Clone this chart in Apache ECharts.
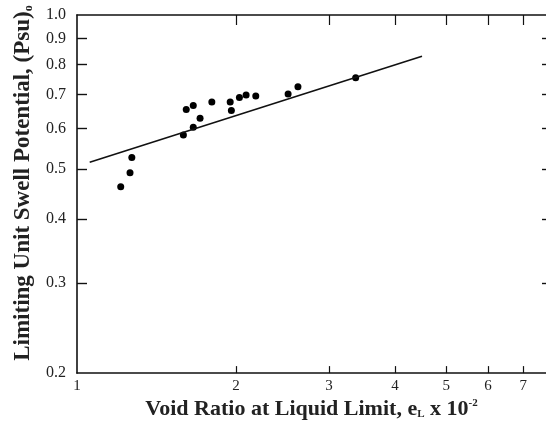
<!DOCTYPE html>
<html>
<head>
<meta charset="utf-8">
<script src="https://cdn.jsdelivr.net/npm/echarts@6/dist/echarts.min.js"></script>
<style>
  html, body { margin: 0; padding: 0; background: #fff; overflow: hidden; }
</style>
</head>
<body>
<!-- plot box runs a bit past the right edge of the page, like the scanned figure -->
<div id="chart" style="width: 554px; height: 425px;"></div>
<script>
// measured points (void ratio at LL x 10^-2, limiting unit swell potential)
const voidRatio = [1.21, 1.26, 1.27, 1.59, 1.61, 1.66, 1.66, 1.71, 1.80, 1.95, 1.96, 2.03, 2.09, 2.18, 2.51, 2.62, 3.37];
const swellPotential = [0.462, 0.492, 0.527, 0.583, 0.654, 0.666, 0.604, 0.629, 0.676, 0.676, 0.651, 0.690, 0.698, 0.695, 0.701, 0.724, 0.754];

// fitted line end points
const fitX = [1.057, 4.50];
const fitY = [0.516, 0.831];

const xTicks = [1, 2, 3, 4, 5, 6, 7];
const yTicks = [0.2, 0.3, 0.4, 0.5, 0.6, 0.7, 0.8, 0.9, 1.0];
const xMin = 1, xMax = 8;
const yMin = 0.2, yMax = 1.0;

const lg = v => Math.log10(v);
const font = 'Liberation Serif';

const chart = echarts.init(document.getElementById('chart'));

const xLabelFmt = v => String(Math.round(Math.pow(10, v)));
const yLabelFmt = v => Math.pow(10, v).toFixed(1);

const axisLine = { show: true, onZero: false, lineStyle: { color: '#111', width: 1.6 } };

let option = {
  animation: false,
  backgroundColor: '#fff',
  grid: { left: 77, right: 0, top: 15, bottom: 47 },
  xAxis: [
    {
      type: 'value',
      position: 'bottom',
      min: lg(xMin),
      max: lg(xMax),
      axisLine: axisLine,
      splitLine: { show: false },
      axisTick: { inside: true, length: 7, customValues: xTicks.slice(1).map(lg), lineStyle: { color: '#111', width: 1.2 } },
      axisLabel: {
        customValues: xTicks.map(lg), formatter: xLabelFmt, margin: 5,
        color: '#222', fontFamily: font, fontSize: 15
      },
      name: 'Void Ratio at Liquid Limit, e{sub|L} x 10{sup|-2}',
      nameLocation: 'middle',
      nameGap: 17,
      nameTextStyle: {
        fontFamily: font, fontSize: 22, fontWeight: 'bold', color: '#222',
        padding: [0, 8, 0, 0],
        rich: {
          sub: { fontFamily: font, fontSize: 11, color: '#222', verticalAlign: 'bottom', padding: [9, 0, 0, 0] },
          sup: { fontFamily: font, fontSize: 11, fontWeight: 'bold', color: '#222', verticalAlign: 'top', padding: [0, 0, 9, 0] }
        }
      }
    },
    {
      type: 'value',
      position: 'top',
      min: lg(xMin),
      max: lg(xMax),
      axisLine: axisLine,
      splitLine: { show: false },
      axisTick: { inside: true, length: 10, customValues: xTicks.slice(1).map(lg), lineStyle: { color: '#111', width: 1.2 } },
      axisLabel: { show: false, customValues: xTicks.slice(1).map(lg) }
    }
  ],
  yAxis: [
    {
      type: 'value',
      position: 'left',
      min: lg(yMin),
      max: lg(yMax),
      axisLine: axisLine,
      splitLine: { show: false },
      axisTick: { inside: true, length: 10, customValues: yTicks.slice(1, -1).map(lg), lineStyle: { color: '#111', width: 1.4 } },
      axisLabel: {
        customValues: yTicks.map(lg), formatter: yLabelFmt, margin: 11,
        color: '#222', fontFamily: font, fontSize: 16
      },
      name: 'Limiting Unit Swell Potential, (Psu){sub|o}',
      nameLocation: 'middle',
      nameGap: 42,
      nameTextStyle: {
        fontFamily: font, fontSize: 23, fontWeight: 'bold', color: '#222',
        padding: [0, 0, 0, 22],
        rich: {
          sub: { fontFamily: font, fontSize: 12, fontWeight: 'bold', color: '#222', verticalAlign: 'bottom', padding: [9, 0, 0, 0] }
        }
      }
    },
    {
      type: 'value',
      position: 'right',
      min: lg(yMin),
      max: lg(yMax),
      axisLine: axisLine,
      splitLine: { show: false },
      axisTick: { inside: true, length: 12, customValues: yTicks.slice(1, -1).map(lg), lineStyle: { color: '#111', width: 1.4 } },
      axisLabel: { show: false, customValues: yTicks.map(lg) }
    }
  ],
  series: [
    {
      type: 'line',
      data: fitX.map((x, i) => [lg(x), lg(fitY[i])]),
      symbol: 'none',
      lineStyle: { color: '#111', width: 1.6 },
      silent: true
    },
    {
      type: 'scatter',
      data: voidRatio.map((x, i) => [lg(x), lg(swellPotential[i])]),
      symbol: 'circle',
      symbolSize: 7,
      itemStyle: { color: '#000', opacity: 1 }
    }
  ]
};

chart.setOption(option);
</script>
</body>
</html>
